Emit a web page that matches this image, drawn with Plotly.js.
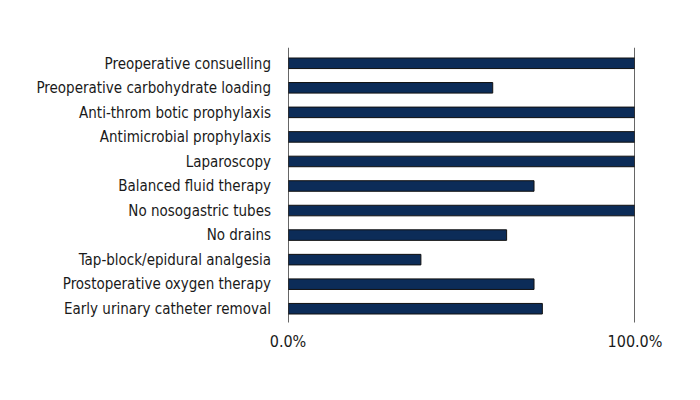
<!DOCTYPE html>
<html>
<head>
<meta charset="utf-8">
<script src="https://cdn.plot.ly/plotly-3.0.1.min.js"></script>
<style>html,body{margin:0;padding:0;background:#fff;}#chart{width:700px;height:400px;}</style>
</head>
<body>
<div id="chart"></div>
<script>
const categories = [
  "Preoperative consuelling",
  "Preoperative carbohydrate loading",
  "Anti-throm botic prophylaxis",
  "Antimicrobial prophylaxis",
  "Laparoscopy",
  "Balanced fluid therapy",
  "No nosogastric tubes",
  "No drains",
  "Tap-block/epidural analgesia",
  "Prostoperative oxygen therapy",
  "Early urinary catheter removal"
];
const values = [1.0, 0.59, 1.0, 1.0, 1.0, 0.709, 1.0, 0.63, 0.383, 0.709, 0.733];
const tickVals = [0, 1];
const tickText = ["0.0%", "100.0%"];

const fontFam = '"Liberation Sans Narrow", "DejaVu Sans Condensed", "Liberation Sans", sans-serif';

const trace = {
  type: 'bar',
  orientation: 'h',
  y: categories,
  x: values,
  width: 0.43,
  marker: {color: '#0c2c58', line: {color: '#111111', width: 1}},
  hoverinfo: 'none'
};

const layout = {
  width: 700, height: 400,
  margin: {l: 288, r: 65, t: 51, b: 79},
  paper_bgcolor: '#ffffff', plot_bgcolor: '#ffffff',
  showlegend: false,
  font: {family: fontFam, size: 15, color: '#1a1a1a'},
  xaxis: {
    range: [0, 1], tickvals: tickVals, ticktext: tickText,
    showgrid: false, zeroline: false, showline: false,
    ticks: '', ticklabelstandoff: 9,
    tickfont: {family: fontFam, size: 16, color: '#1a1a1a'},
    fixedrange: true
  },
  yaxis: {
    type: 'category', autorange: 'reversed',
    range: [-0.5, 10.5],
    showgrid: false, zeroline: false, showline: false,
    ticks: '', ticklabelstandoff: 16,
    tickfont: {family: fontFam, size: 15, color: '#1a1a1a'},
    fixedrange: true
  },
  shapes: [
    {type: 'line', xref: 'x', yref: 'paper', x0: 0, x1: 0, y0: -0.006, y1: 1.012, line: {color: '#333333', width: 1.5}, layer: 'above'},
    {type: 'line', xref: 'x', yref: 'paper', x0: 1, x1: 1, y0: -0.006, y1: 1.012, line: {color: '#333333', width: 1.5}, layer: 'above'}
  ]
};

Plotly.newPlot('chart', [trace], layout, {staticPlot: true, displayModeBar: false});
</script>
</body>
</html>
